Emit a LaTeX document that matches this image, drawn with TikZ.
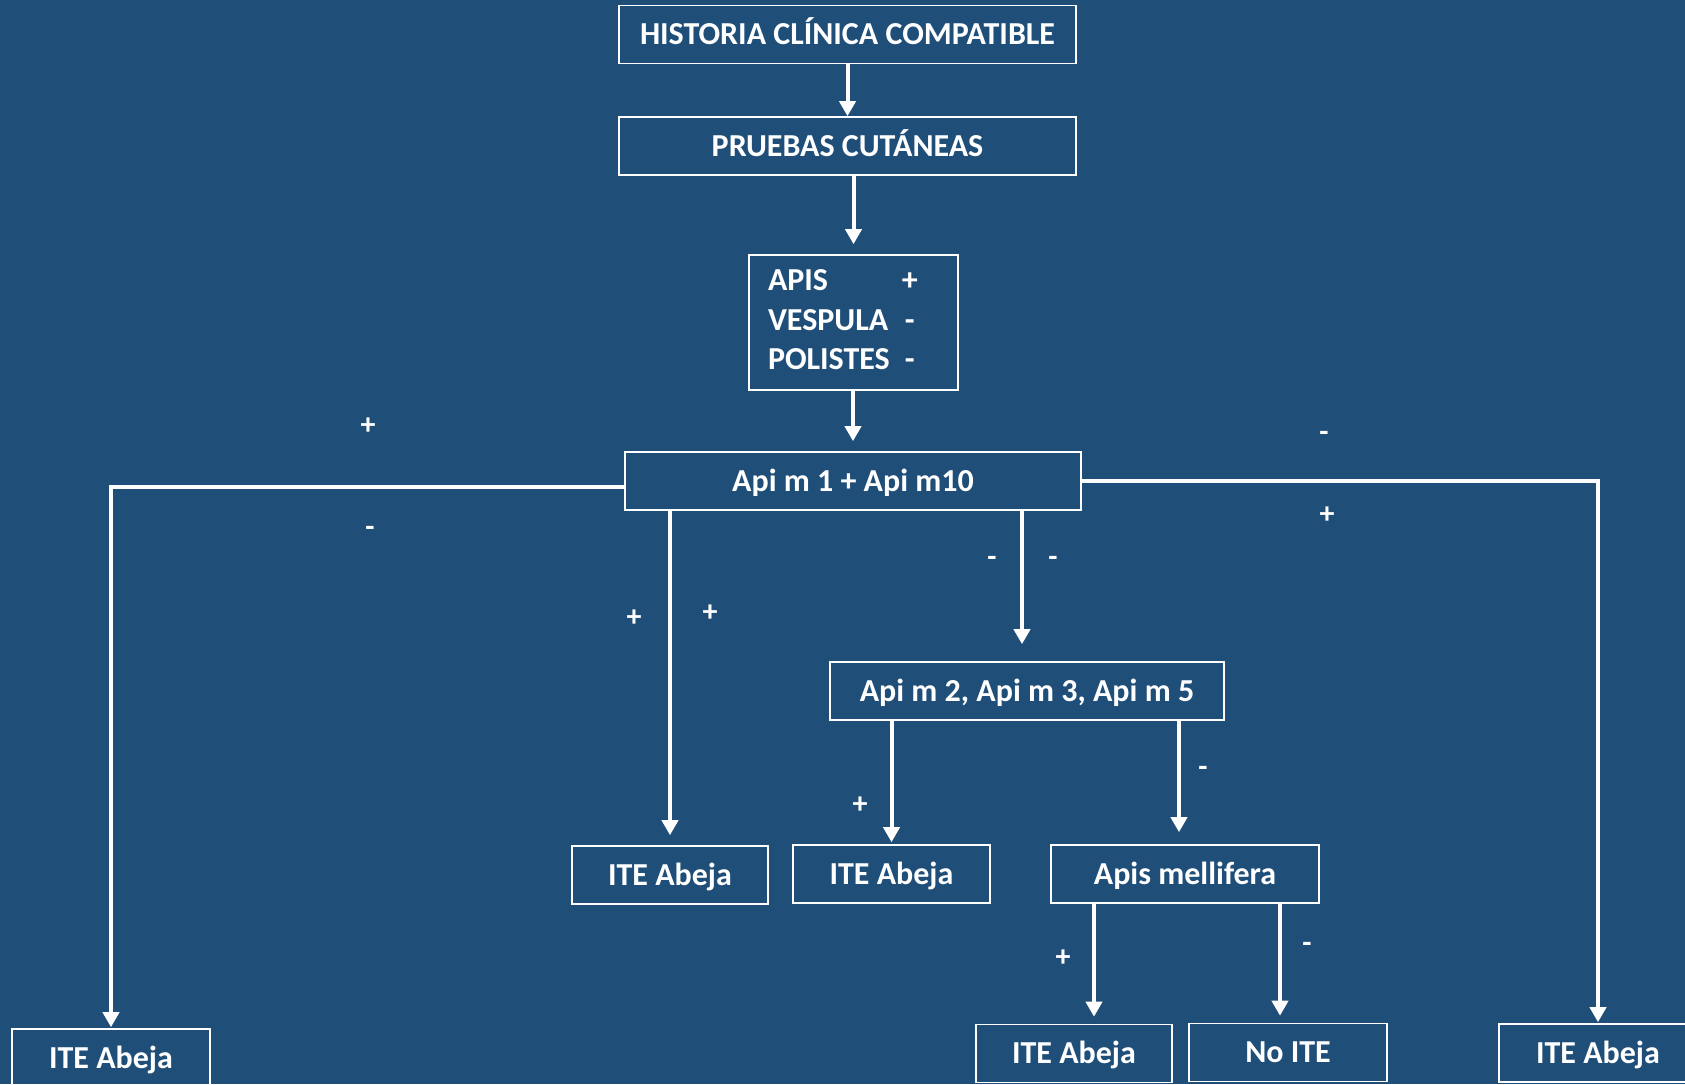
\documentclass[tikz,border=0pt]{standalone}
\usepackage{fontspec}
\setmainfont{Carlito}
\usetikzlibrary{arrows.meta}
\definecolor{bg}{HTML}{1F4E79}
\begin{document}
\begin{tikzpicture}[x=1pt,y=-1pt,
  box/.style={draw=white, line width=1.6pt, text=white,
    font=\fontsize{32}{38}\selectfont\bfseries,
    minimum height=58pt, inner sep=0pt},
  lbl/.style={box, text height=20.6pt, text depth=0pt},
  arr/.style={draw=white, line width=4pt, line join=miter,
    -{Triangle[width=16pt,length=15pt]}},
  sign/.style={text=white, font=\fontsize{30}{36}\selectfont\bfseries, inner sep=0pt}]
\fill[bg] (0,0) rectangle (1685,1084);
\useasboundingbox (0,0) rectangle (1685,1084);
\clip (0,0) rectangle (1685,1084);

% boxes
\node[lbl, minimum width=457pt] (hist) at (847.5,34.5) {HISTORIA CLÍNICA COMPATIBLE};
\node[lbl, minimum width=457pt] (prue) at (847.5,146) {PRUEBAS CUTÁNEAS};
\node[box, minimum height=135pt, text width=171pt, inner xsep=19pt, align=left] (apis) at (853.5,322.5)
  {\fontsize{32}{39.5}\selectfont\begin{tabular}{@{}l@{\hspace{12pt}}c@{}}APIS & + \\ VESPULA & - \\ POLISTES & -\end{tabular}};
\node[lbl, minimum width=456pt] (api1) at (853,481) {Api m 1 + Api m10};
\node[lbl, minimum width=198pt] (iteL) at (111,1058) {ITE Abeja};
\node[lbl, minimum width=196pt] (ite1) at (670,875) {ITE Abeja};
\node[lbl, minimum width=394pt] (api2) at (1027,691) {Api m 2, Api m 3, Api m 5};
\node[lbl, minimum width=197pt] (ite2) at (891.5,874) {ITE Abeja};
\node[lbl, minimum width=268pt] (mel) at (1185,874) {Apis mellifera};
\node[lbl, minimum width=196pt] (ite3) at (1074,1053.5) {ITE Abeja};
\node[lbl, minimum width=198pt] (noite) at (1288,1052.5) {No ITE};
\node[lbl, minimum width=198pt] (iteR) at (1598,1053) {ITE Abeja};

% connectors
\draw[arr] (hist.south) -- (prue.north);
\draw[arr, shorten >=10pt] (apis.north |- prue.south) -- (apis.north);
\draw[arr, shorten >=10pt] (api1.north |- apis.south) -- (api1.north);
\draw[arr, shorten >=1pt] ([yshift=-6pt]api1.west) -| (iteL.north);
\draw[arr, shorten >=1pt] (api1.east) -| (iteR.north);
\draw[arr, shorten >=10pt] (ite1.north |- api1.south) -- (ite1.north);
\draw[arr, shorten >=17pt] ([xshift=-5pt]api2.north |- api1.south) -- ([xshift=-5pt]api2.north);
\draw[arr, shorten >=2pt] (ite2.north |- api2.south) -- (ite2.north);
\draw[arr, shorten >=12pt] ([xshift=-6pt]mel.north |- api2.south) -- ([xshift=-6pt]mel.north);
\draw[arr, shorten >=7pt] ([xshift=20pt]ite3.north |- mel.south) -- ([xshift=20pt]ite3.north);
\draw[arr, shorten >=7pt] ([xshift=-8pt]noite.north |- mel.south) -- ([xshift=-8pt]noite.north);

% branch signs
\node[sign] (s1) at (368,426) {+};
\node[sign] (s2) at (370,531) {-};
\node[sign] (s3) at (1324,436) {-};
\node[sign] (s4) at (1327,515) {+};
\node[sign] (s5) at (634,618) {+};
\node[sign] (s6) at (710,613) {+};
\node[sign] (s7) at (992,561) {-};
\node[sign] (s8) at (1053,561) {-};
\node[sign] (s9) at (860,805) {+};
\node[sign] (s10) at (1203,771) {-};
\node[sign] (s11) at (1063,958) {+};
\node[sign] (s12) at (1307,947) {-};
\end{tikzpicture}
\end{document}
